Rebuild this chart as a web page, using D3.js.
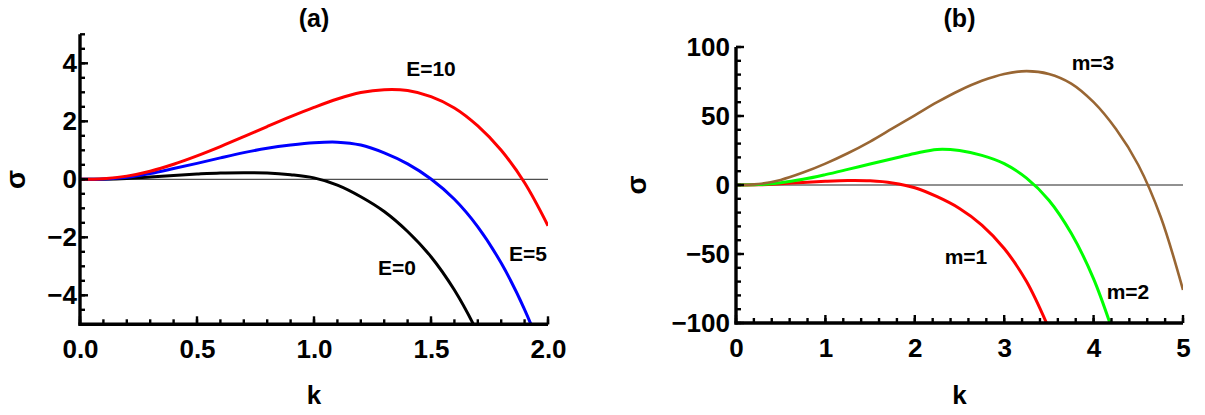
<!DOCTYPE html>
<html>
<head>
<meta charset="utf-8">
<script src="https://cdn.jsdelivr.net/npm/d3@7"></script>
<style>
  body { margin: 0; background: #fff; }
  text { font-family: "Liberation Sans", Arial, sans-serif; font-weight: bold; fill: #000; }
</style>
</head>
<body>
<div id="chart"></div>
<script>
// panel (a): growth rate vs k for three E values
let kA = [0, 0.1, 0.2, 0.3, 0.4, 0.5, 0.6, 0.7, 0.8, 0.9, 1.0, 1.1, 1.2, 1.3, 1.4, 1.5, 1.6, 1.7, 1.8, 1.9, 2.0];
let sigmaE0 = [0, 0.005, 0.03, 0.08, 0.13, 0.18, 0.22, 0.23, 0.22, 0.16, 0.05, -0.2, -0.6, -1.11, -1.8, -2.67, -3.82, -5.3, -7.1, null, null];
let sigmaE5 = [0, 0.01, 0.07, 0.2, 0.37, 0.55, 0.74, 0.92, 1.07, 1.18, 1.26, 1.28, 1.18, 0.91, 0.53, 0.01, -0.69, -1.64, -2.89, -4.49, -6.49];
let sigmaE10 = [0, 0.02, 0.11, 0.28, 0.52, 0.81, 1.13, 1.47, 1.82, 2.16, 2.48, 2.77, 2.99, 3.09, 3.06, 2.85, 2.46, 1.84, 1.0, -0.12, -1.6];
let ticksXA = [0, 0.5, 1.0, 1.5, 2.0];
let ticksYA = [-4, -2, 0, 2, 4];

// panel (b): growth rate vs k for three m values
let kB = [0, 0.25, 0.5, 0.75, 1, 1.25, 1.5, 1.75, 2, 2.25, 2.5, 2.75, 3, 3.25, 3.5, 3.75, 4, 4.25, 4.5, 4.75, 5];
let sigmaM1 = [0, 0.1, 0.9, 1.9, 2.7, 3.2, 3.0, 1.5, -2.0, -8.5, -17, -29, -46, -70, -104, null, null, null, null, null, null];
let sigmaM2 = [0, 0.3, 1.6, 4.1, 7.5, 11.3, 15.2, 19.0, 22.8, 25.8, 25.0, 21.5, 15.5, 5.0, -11, -35, -68, -113, null, null, null];
let sigmaM3 = [0, 0.7, 3.7, 9, 15.5, 23, 31.5, 41, 50.5, 60, 68.5, 75.5, 80.5, 82.5, 80.5, 73.5, 60, 40.5, 14.5, -23, -76];
let ticksXB = [0, 1, 2, 3, 4, 5];
let ticksYB = [-100, -50, 0, 50, 100];

let svgWidth = 1205;
let svgHeight = 415;

let svg = d3.select("#chart").append("svg")
  .attr("width", svgWidth)
  .attr("height", svgHeight);

function drawPanel(p) {
  let x = d3.scaleLinear().domain(p.xDomain).range([p.left, p.right]);
  let y = d3.scaleLinear().domain(p.yDomain).range([p.bottom, p.top]);

  let g = svg.append("g");

  // zero line
  g.append("line")
    .attr("x1", x(p.xDomain[0])).attr("x2", x(p.xDomain[1]))
    .attr("y1", y(0)).attr("y2", y(0))
    .attr("stroke", "#222").attr("stroke-width", 1);

  // keep only the part of each curve that lies in the box
  let line = d3.line()
    .defined(d => d[1] !== null)
    .x(d => x(d[0]))
    .y(d => y(d[1]))
    .curve(d3.curveCatmullRom.alpha(0.5));

  let clipId = "clip-" + p.id;
  svg.append("defs").append("clipPath").attr("id", clipId)
    .append("rect")
    .attr("x", p.left).attr("y", p.top)
    .attr("width", p.right - p.left).attr("height", p.bottom - p.top);

  p.series.forEach(function(s) {
    g.append("path")
      .datum(p.k.map((k, i) => [k, s.values[i]]))
      .attr("clip-path", `url(#${clipId})`)
      .attr("fill", "none")
      .attr("stroke", s.color)
      .attr("stroke-width", s.width)
      .attr("stroke-linejoin", "round")
      .attr("d", line);
  });

  // axis lines
  g.append("line")
    .attr("x1", p.left).attr("x2", p.left)
    .attr("y1", p.top).attr("y2", p.bottom + 1.5)
    .attr("stroke", "#000").attr("stroke-width", 3.4);
  g.append("line")
    .attr("x1", p.left - 1.5).attr("x2", p.right)
    .attr("y1", p.bottom).attr("y2", p.bottom)
    .attr("stroke", "#000").attr("stroke-width", 3.4);

  // inward tick marks
  p.xMinor.forEach(function(v) {
    g.append("line").attr("x1", x(v)).attr("x2", x(v))
      .attr("y1", p.bottom).attr("y2", p.bottom - 5)
      .attr("stroke", "#000").attr("stroke-width", 2.4);
  });
  p.yMinor.forEach(function(v) {
    g.append("line").attr("x1", p.left).attr("x2", p.left + 5)
      .attr("y1", y(v)).attr("y2", y(v))
      .attr("stroke", "#000").attr("stroke-width", 2.4);
  });
  p.xTicks.forEach(function(v) {
    g.append("line").attr("x1", x(v)).attr("x2", x(v))
      .attr("y1", p.bottom).attr("y2", p.bottom - 8)
      .attr("stroke", "#000").attr("stroke-width", 2.4);
  });
  p.yTicks.forEach(function(v) {
    g.append("line").attr("x1", p.left).attr("x2", p.left + 8)
      .attr("y1", y(v)).attr("y2", y(v))
      .attr("stroke", "#000").attr("stroke-width", 2.4);
  });

  // tick labels from d3 axes
  let xAxis = g.append("g")
    .attr("transform", `translate(0,${p.bottom})`)
    .call(d3.axisBottom(x).tickValues(p.xTicks).tickSize(0)
      .tickPadding(15.5).tickFormat(p.xFormat));
  let yAxis = g.append("g")
    .attr("transform", `translate(${p.left},0)`)
    .call(d3.axisLeft(y).tickValues(p.yTicks).tickSize(0)
      .tickPadding(p.yPad).tickFormat(d3.format("d")));

  [xAxis, yAxis].forEach(function(a) {
    a.select(".domain").remove();
    a.selectAll(".tick line").remove();
    a.selectAll("text")
      .attr("font-size", 26)
      .attr("font-family", "'Liberation Sans', Arial, sans-serif")
      .attr("font-weight", "bold")
      .attr("fill", "#000");
  });

  // title and axis labels
  let cx = (p.left + p.right) / 2;
  g.append("text").attr("x", cx).attr("y", 27)
    .attr("text-anchor", "middle").attr("font-size", 25).text(p.title);
  g.append("text").attr("x", cx).attr("y", 404)
    .attr("text-anchor", "middle").attr("font-size", 26).text("k");
  g.append("text")
    .attr("transform", `translate(${p.sigmaX},${y(0)}) rotate(-90)`)
    .attr("text-anchor", "middle").attr("dy", "0.3em")
    .attr("font-size", 28).text("σ");

  // curve labels
  p.labels.forEach(function(l) {
    g.append("text")
      .attr("x", l.x).attr("y", l.y)
      .attr("text-anchor", "middle")
      .attr("dy", "0.35em")
      .attr("font-size", 21)
      .text(l.text);
  });
}

drawPanel({
  id: "a",
  left: 80, right: 548, top: 34.3, bottom: 324.3,
  xDomain: [0, 2], yDomain: [-5, 5],
  k: kA,
  series: [
    { values: sigmaE0, color: "#000000", width: 3 },
    { values: sigmaE5, color: "#0000ff", width: 3 },
    { values: sigmaE10, color: "#ff0000", width: 3 },
  ],
  xTicks: ticksXA,
  yTicks: ticksYA,
  xMinor: d3.range(0, 2.001, 0.1),
  yMinor: d3.range(-5, 5.001, 0.5),
  xFormat: d3.format(".1f"),
  yPad: 3,
  title: "(a)",
  sigmaX: 17,
  labels: [
    { text: "E=10", x: 431, y: 69 },
    { text: "E=5", x: 528, y: 254 },
    { text: "E=0", x: 397, y: 268 },
  ],
});

drawPanel({
  id: "b",
  left: 736, right: 1183, top: 47, bottom: 323,
  xDomain: [0, 5], yDomain: [-100, 100],
  k: kB,
  series: [
    { values: sigmaM1, color: "#ff0000", width: 3 },
    { values: sigmaM2, color: "#00ff00", width: 3 },
    { values: sigmaM3, color: "#996633", width: 2.6 },
  ],
  xTicks: ticksXB,
  yTicks: ticksYB,
  xMinor: d3.range(0, 5.001, 0.2),
  yMinor: d3.range(-100, 100.001, 10),
  xFormat: d3.format("d"),
  yPad: 6,
  title: "(b)",
  sigmaX: 638,
  labels: [
    { text: "m=3", x: 1093, y: 63 },
    { text: "m=1", x: 966, y: 257 },
    { text: "m=2", x: 1128, y: 292 },
  ],
});
</script>
</body>
</html>
